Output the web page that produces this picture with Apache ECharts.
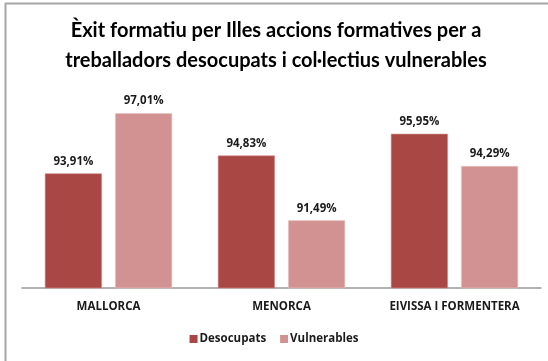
<!DOCTYPE html>
<html>
<head>
<meta charset="utf-8">
<style>
  html, body { margin: 0; padding: 0; background: #fff; }
  #chart { width: 548px; height: 361px; }
</style>
<script src="https://cdn.jsdelivr.net/npm/echarts@6/dist/echarts.min.js"></script>
</head>
<body>
<div id="chart"></div>
<script>
// Islands and series values (percentages)
const categories = ['MALLORCA', 'MENORCA', 'EIVISSA I FORMENTERA'];
const desocupats = [93.91, 94.83, 95.95];
const vulnerables = [97.01, 91.49, 94.29];
const seriesNames = ['Desocupats', 'Vulnerables'];
const titleLines = [
  'Èxit formatiu per Illes accions formatives per a',
  'treballadors desocupats i col·lectius vulnerables'
];

const TITLE_FONT = 'Lato, "Open Sans", sans-serif';
const FONT = '"Open Sans", Lato, sans-serif';
const fmt = v => v.toFixed(2).replace('.', ',') + '%';

const chart = echarts.init(document.getElementById('chart'), null, { renderer: 'canvas' });

const barLabel = {
  show: true,
  position: 'top',
  distance: 6,
  fontFamily: FONT,
  fontWeight: 'bold',
  fontSize: 11.5,
  color: '#1a1a1a',
  formatter: p => fmt(p.value)
};

chart.setOption({
  animation: false,
  title: {
    text: titleLines.join('\n'),
    left: 271,
    top: 11,
    textAlign: 'center',
    textStyle: {
      fontFamily: TITLE_FONT,
      fontWeight: 'bold',
      fontSize: 20,
      lineHeight: 30,
      color: '#000'
    }
  },
  graphic: [
    { type: 'line', shape: { x1: 5.5, y1: 3, x2: 5.5, y2: 361 }, style: { stroke: '#a6a6a6', lineWidth: 2 } },
    { type: 'line', shape: { x1: 5, y1: 3.5, x2: 548, y2: 3.5 }, style: { stroke: '#a6a6a6', lineWidth: 2 } }
  ],
  legend: {
    data: seriesNames,
    bottom: 11,
    left: 'center',
    itemWidth: 8,
    itemHeight: 8,
    itemGap: 14,
    icon: 'rect',
    itemStyle: { borderWidth: 0 },
    textStyle: { fontFamily: FONT, fontWeight: 'bold', fontSize: 11.5, color: '#1a1a1a', padding: [0, 0, 0, -3] }
  },
  grid: { left: 22, right: 7, top: 94, bottom: 73 },
  xAxis: {
    type: 'category',
    data: categories,
    axisTick: { show: false },
    axisLine: { lineStyle: { color: '#999', width: 1.5 } },
    axisLabel: {
      interval: 0,
      fontFamily: FONT,
      fontWeight: 'bold',
      fontSize: 11.5,
      color: '#1a1a1a',
      margin: 13
    }
  },
  yAxis: {
    type: 'value',
    min: 88,
    max: 98,
    interval: 2,
    show: false,
    splitLine: { show: false }
  },
  series: [
    {
      name: seriesNames[0],
      type: 'bar',
      data: desocupats,
      barWidth: '33%',
      barGap: '23%',
      itemStyle: { color: '#a94745', borderColor: '#d98f8d', borderWidth: 0.6 },
      label: barLabel
    },
    {
      name: seriesNames[1],
      type: 'bar',
      data: vulnerables,
      barWidth: '33%',
      itemStyle: { color: '#d39292', borderColor: '#ecc6c5', borderWidth: 0.6 },
      label: barLabel
    }
  ]
});
</script>
</body>
</html>
